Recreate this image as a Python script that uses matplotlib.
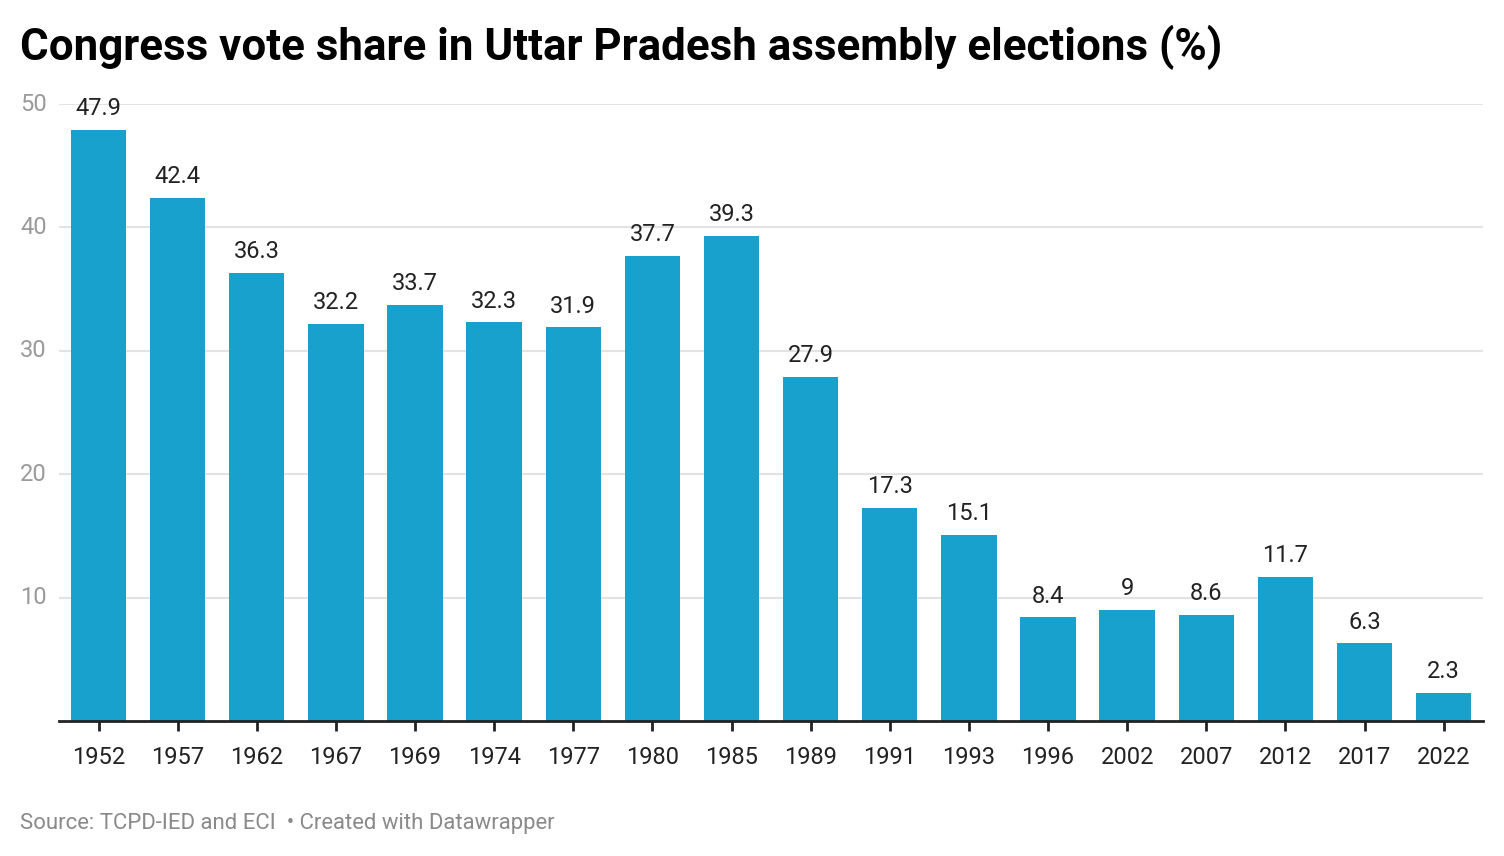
import matplotlib.pyplot as plt
from matplotlib import transforms

plt.rcParams['font.family'] = ['Roboto', 'DejaVu Sans']

years = ["1952", "1957", "1962", "1967", "1969", "1974", "1977", "1980", "1985",
         "1989", "1991", "1993", "1996", "2002", "2007", "2012", "2017", "2022"]
share = [47.9, 42.4, 36.3, 32.2, 33.7, 32.3, 31.9, 37.7, 39.3,
         27.9, 17.3, 15.1, 8.4, 9, 8.6, 11.7, 6.3, 2.3]
share_labels = ["47.9", "42.4", "36.3", "32.2", "33.7", "32.3", "31.9", "37.7", "39.3",
                "27.9", "17.3", "15.1", "8.4", "9", "8.6", "11.7", "6.3", "2.3"]
y_ticks = [10, 20, 30, 40, 50]

fig = plt.figure(figsize=(15.04, 8.56), dpi=100)
ax = fig.add_axes([0.0392, 0.1577, 0.947, 0.7208])

x = list(range(len(years)))
ax.bar(x, share, width=0.7, color='#18a1cd', zorder=3)

for xi, v, lab in zip(x, share, share_labels):
    ax.annotate(lab, (xi, v), xytext=(0, 7), textcoords='offset points',
                ha='center', va='bottom', fontsize=17, color='#222222',
                annotation_clip=False, zorder=4)

ax.set_xlim(-0.5, 17.5)
ax.set_ylim(0, 50)
ax.set_xticks(x)
ax.set_xticklabels(years, fontsize=17, color='#222222')
ax.tick_params(axis='x', length=7, width=2, color='#222222', pad=11)
ax.set_yticks(y_ticks)
ax.tick_params(axis='y', length=0, labelleft=False)
ax.grid(axis='y', color='#e3e3e3', linewidth=1.5, zorder=0)

# y labels sit at the far left of the figure
trans = transforms.blended_transform_factory(fig.transFigure, ax.transData)
for t in y_ticks:
    ax.text(0.0135, t, str(t), transform=trans, ha='left', va='center',
            fontsize=17, color='#9a9a9a')

for s in ['top', 'right', 'left']:
    ax.spines[s].set_visible(False)
ax.spines['bottom'].set_linewidth(2)
ax.spines['bottom'].set_color('#222222')
ax.spines['bottom'].set_zorder(5)

fig.text(0.0133, 0.944, "Congress vote share in Uttar Pradesh assembly elections (%)",
         fontsize=31.6, fontweight='bold', color='#000000', ha='left', va='center')
fig.text(0.0133, 0.038, "Source: TCPD-IED and ECI  \u2022 Created with Datawrapper",
         fontsize=15.9, color='#8a8a8a', ha='left', va='center')

fig.savefig("out.png", dpi=100)
